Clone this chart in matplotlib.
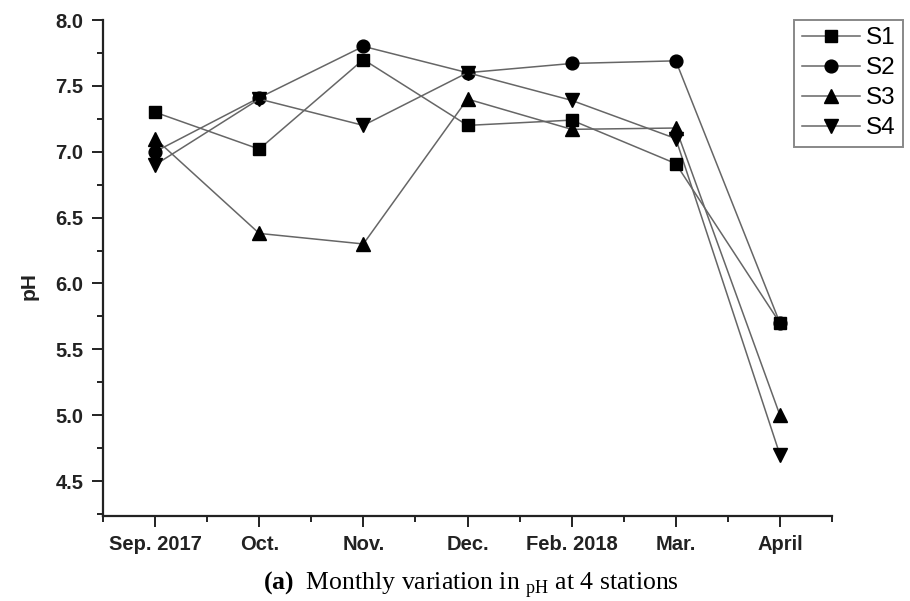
import matplotlib
matplotlib.use("Agg")
import matplotlib.pyplot as plt
from matplotlib.ticker import MultipleLocator, FixedLocator

months = ["Sep. 2017", "Oct.", "Nov.", "Dec.", "Feb. 2018", "Mar.", "April"]
s1 = [7.30, 7.02, 7.70, 7.20, 7.24, 6.91, 5.70]
s2 = [7.00, 7.41, 7.80, 7.60, 7.67, 7.69, 5.70]
s3 = [7.10, 6.38, 6.30, 7.40, 7.17, 7.18, 5.00]
s4 = [6.90, 7.40, 7.20, 7.60, 7.39, 7.10, 4.70]

plt.rcParams['mathtext.fontset'] = 'custom'
plt.rcParams['mathtext.rm'] = 'Liberation Serif'
plt.rcParams['mathtext.bf'] = 'Liberation Serif:bold'

fig = plt.figure(figsize=(9.1, 6.01), dpi=100)
ax = fig.add_axes([103/910, 1 - 516/601, (832 - 103)/910, (516 - 20)/601])

x = list(range(len(months)))
line_col = "#666666"
series = [("S1", s1, "s", 8.8, 4), ("S2", s2, "o", 9.2, 3),
          ("S3", s3, "^", 10.5, 3), ("S4", s4, "v", 10.5, 3)]
for name, vals, mk, ms, z in series:
    ax.plot(x, vals, color=line_col, lw=1.1, marker=mk, ms=ms,
            mfc="black", mec="black", label=name, zorder=z, clip_on=False)

ax.set_xlim(-0.5, 6.5)
ax.set_ylim(4.235, 8.0)

ax.xaxis.set_major_locator(FixedLocator(x))
ax.xaxis.set_minor_locator(MultipleLocator(0.5))
ax.set_xticklabels(months)
ax.yaxis.set_major_locator(MultipleLocator(0.5))
ax.yaxis.set_minor_locator(MultipleLocator(0.25))
ax.yaxis.set_major_formatter(plt.FormatStrFormatter("%.1f"))

for side in ["top", "right"]:
    ax.spines[side].set_visible(False)
for side in ["left", "bottom"]:
    ax.spines[side].set_linewidth(1.6)
    ax.spines[side].set_color("#222222")

ax.tick_params(which="major", length=8, width=1.4, color="#222222", direction="out")
ax.tick_params(which="minor", length=4.5, width=1.4, color="#222222", direction="out")
ax.tick_params(axis="x", pad=6)
ax.tick_params(axis="y", pad=6)
for lab in ax.get_xticklabels() + ax.get_yticklabels():
    lab.set_fontfamily("Liberation Sans")
    lab.set_fontweight("bold")
    lab.set_fontsize(14.5)
    lab.set_color("#222222")

fig.text(29/910, 1 - 286/601, "pH", rotation=90, ha="center", va="center",
         family="Liberation Sans", weight="bold", fontsize=15, color="#222222")

leg = ax.legend(loc="upper right", bbox_to_anchor=(903/910, 1 - 20/601),
                bbox_transform=fig.transFigure, borderaxespad=0,
                fancybox=False, edgecolor="#888888", framealpha=1,
                handlelength=2.4, handletextpad=0.25, labelspacing=0.33,
                borderpad=0.3, prop={"family": "Liberation Sans", "size": 17.5})
leg.get_frame().set_linewidth(1.4)

fig.text(471/910, 1 - 589/601,
         r"$\mathbf{(a)}$  Monthly variation in $_{\mathrm{pH}}$ at 4 stations",
         ha="center", va="baseline", family="Liberation Serif", fontsize=18.5)

fig.savefig("out.png", dpi=100)
